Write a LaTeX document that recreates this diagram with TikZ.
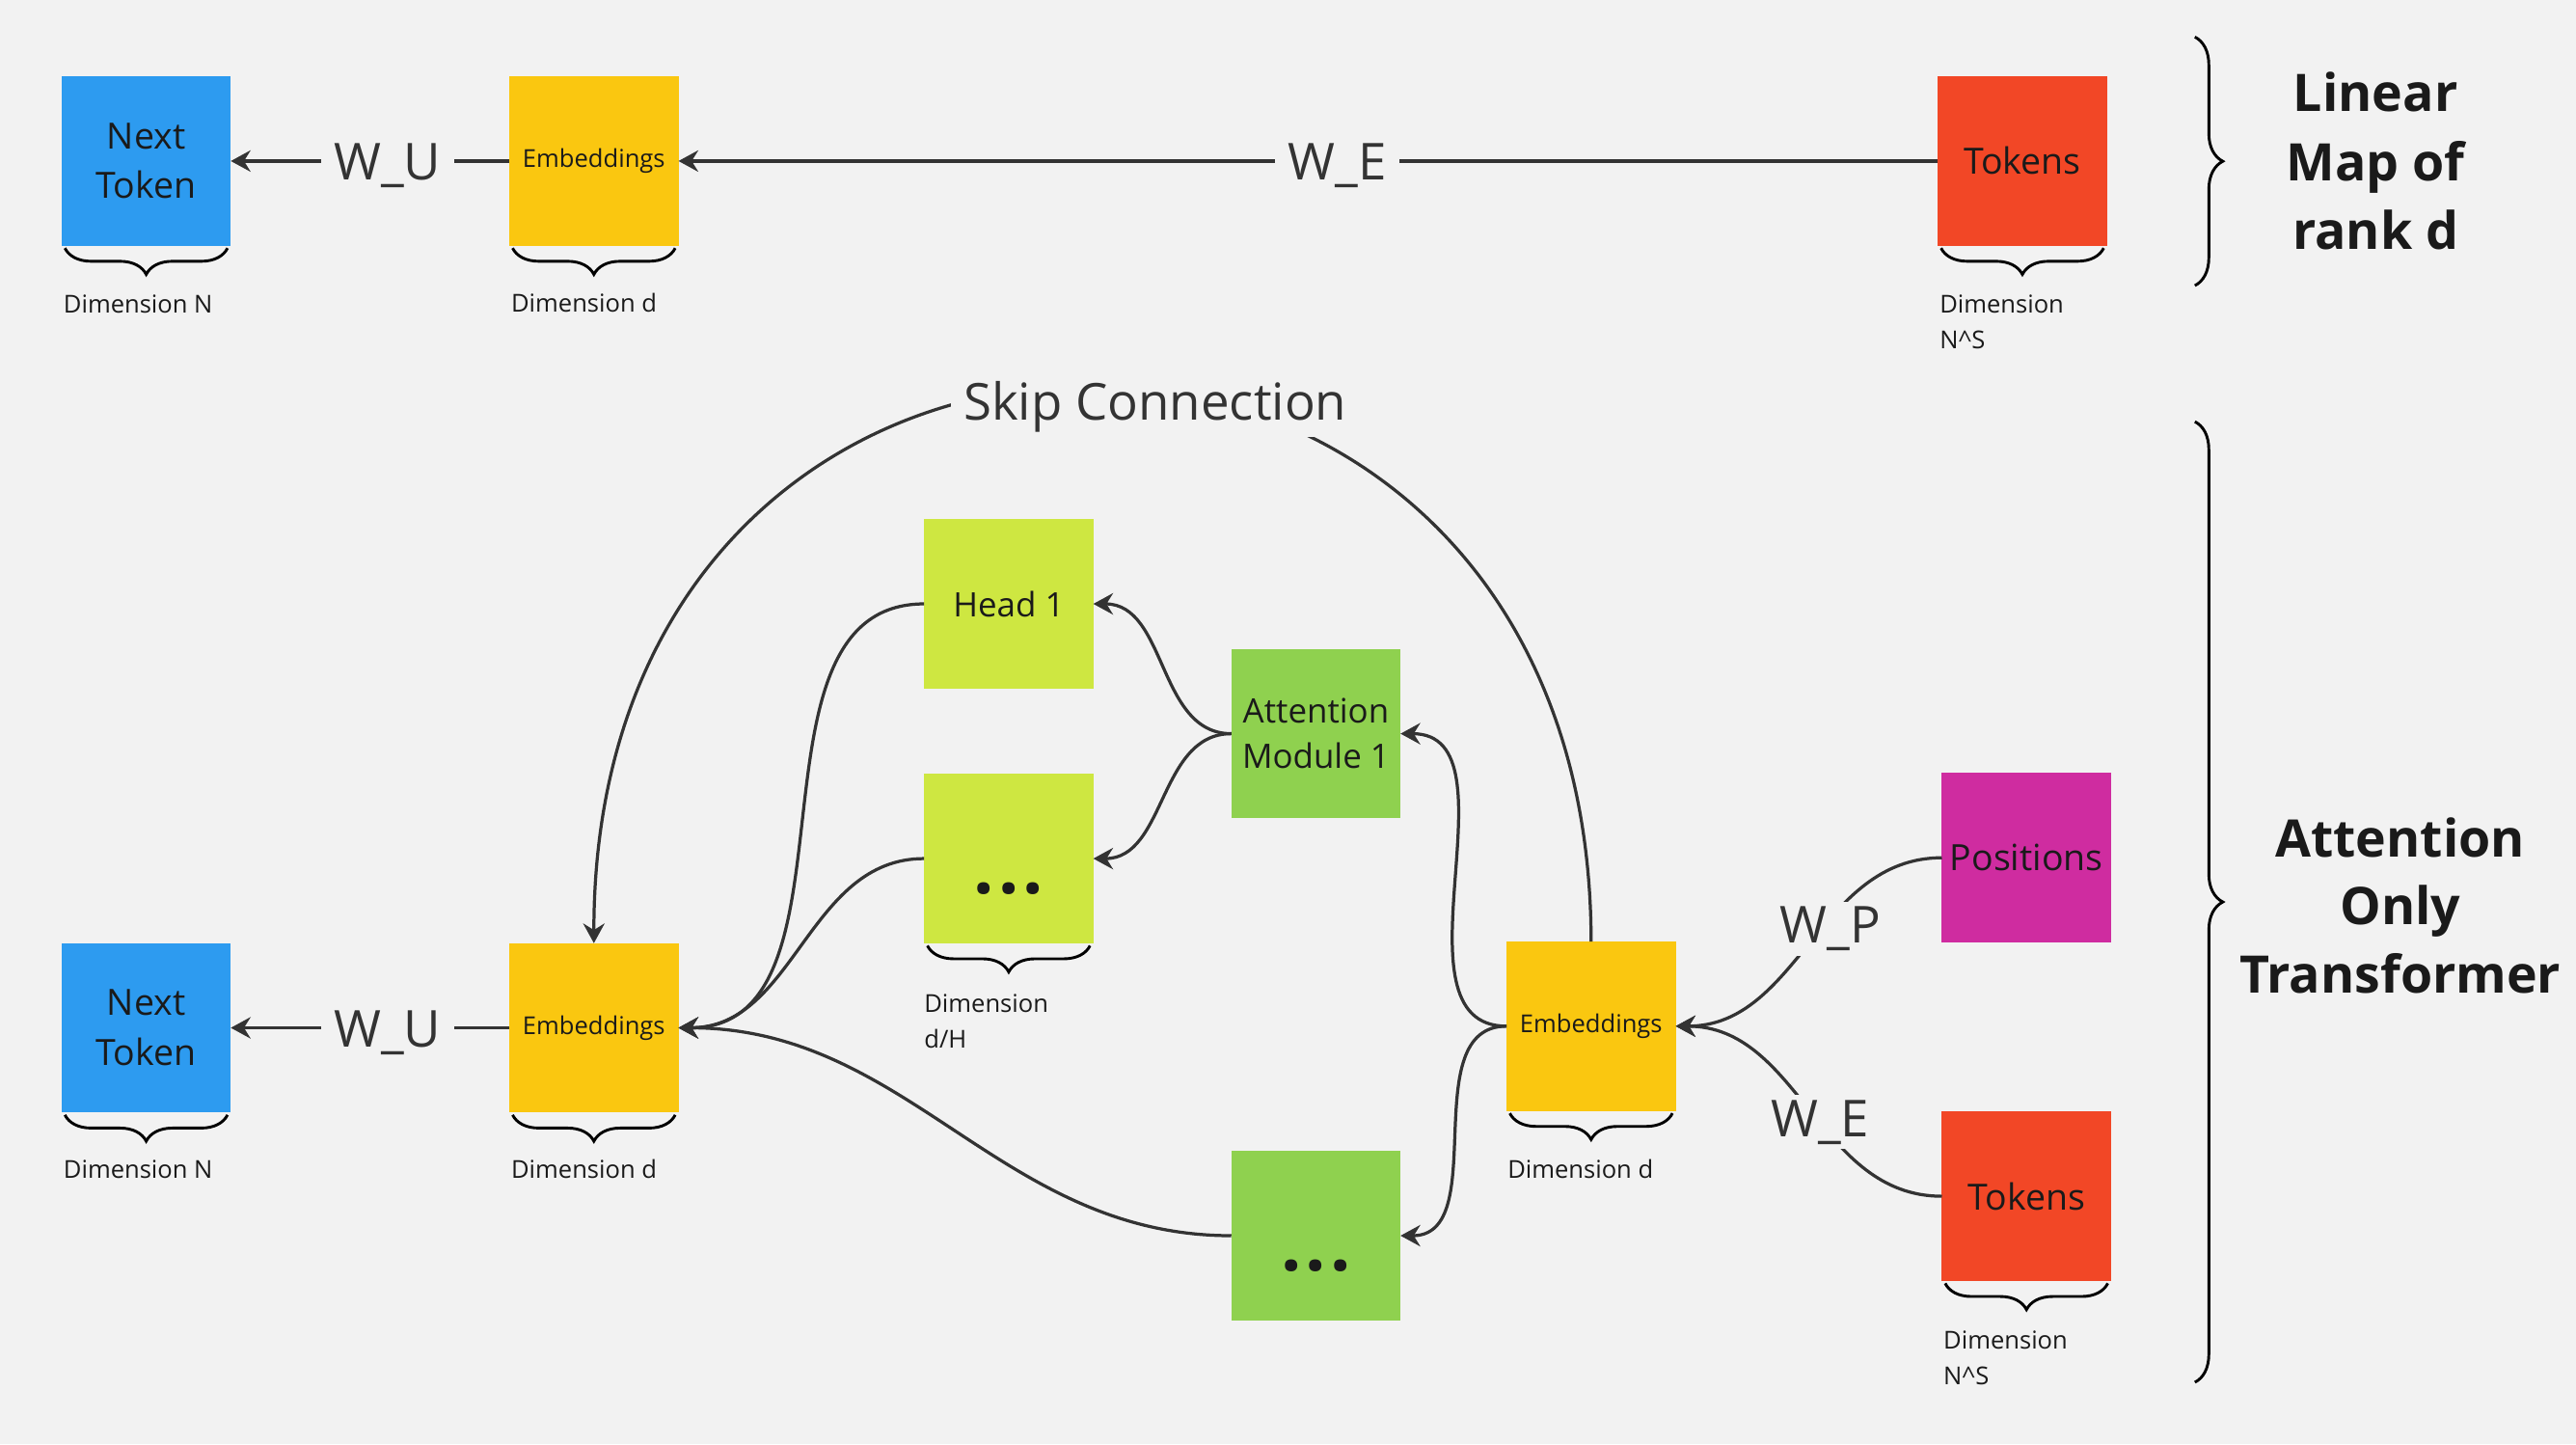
\documentclass[tikz,border=0pt]{standalone}
\usepackage{fontspec}
\setmainfont{Open Sans}
\usetikzlibrary{arrows.meta,decorations.pathreplacing}
\definecolor{bg}{HTML}{F2F2F2}
\definecolor{cblue}{HTML}{2D9BF0}
\definecolor{cyellow}{HTML}{FAC710}
\definecolor{cred}{HTML}{F24726}
\definecolor{clime}{HTML}{CEE741}
\definecolor{cgreen}{HTML}{8FD14F}
\definecolor{cmag}{HTML}{CF2CA0}
\definecolor{cline}{HTML}{333333}
\definecolor{ctext}{HTML}{1A1A1A}
\newcommand\fntbig{\fontsize{22}{30.3}\selectfont}
\newcommand\fntmid{\fontsize{20.5}{27.4}\selectfont}
\newcommand\fntemb{\fontsize{15}{18}\selectfont}
\newcommand\fntdim{\fontsize{15}{21.8}\selectfont}
\newcommand\fntlbl{\fontsize{31}{36}\selectfont}
\newcommand\fnttitleA{\fontsize{31.5}{42}\selectfont\bfseries}
\newcommand\fnttitleB{\fontsize{31.5}{41.3}\selectfont\bfseries}
\newcommand\boxdots{\smash{\raisebox{-21.5pt}{\fontsize{44}{44}\selectfont\bfseries .\kern2.4pt.\kern2.4pt.}}}
\begin{document}
\begin{tikzpicture}[x=1pt, y=-1pt,
  box/.style={minimum width=103pt, minimum height=103pt, inner sep=0pt, outer sep=0pt, align=center, text=ctext},
  conn/.style={draw=cline, line width=1.9pt, -{Stealth[length=12pt,width=13pt,inset=4pt]}},
  lbl/.style={fill=bg, text=cline, font=\fntlbl, inner xsep=8pt, inner ysep=3pt},
  brc/.style={draw=black, line width=1.7pt, decorate, decoration={brace, amplitude=16pt}},
  bigbrc/.style={draw=black, line width=1.7pt, decorate, decoration={brace, amplitude=17pt}},
  dimlbl/.style={font=\fntdim, text=ctext, align=left, inner sep=0pt, anchor=base west},
  title/.style={text=ctext, align=center, inner sep=0pt}]
\fill[bg] (0,0) rectangle (1568,879);
\useasboundingbox (0,0) rectangle (1568,879);

% ---------- top row ----------
\node[box, fill=cblue, font=\fntbig] (nt1) at (89,98) {Next\\Token};
\node[box, fill=cyellow, font=\fntemb] (e1) at (361.5,98) {Embeddings};
\node[box, fill=cred, font=\fntbig] (t1) at (1231,98) {Tokens};

\draw[conn] (e1.west) -- node[lbl, pos=0.437, yshift=-3pt] {W\_U} (nt1.east);
\draw[conn] (t1.west) -- node[lbl, pos=0.4767, yshift=-3pt] {W\_E} (e1.east);

% ---------- bottom ----------
\node[box, fill=cblue, font=\fntbig] (nt2) at (89,625.5) {Next\\Token};
\node[box, fill=cyellow, font=\fntemb] (e2) at (361.5,625.5) {Embeddings};
\node[box, fill=clime, font=\fntmid] (h1) at (614,367.5) {Head 1};
\node[box, fill=clime] (d1) at (614,522.5) {\boxdots};
\node[box, fill=cgreen, font=\fntmid] (am) at (801,446.5) {Attention\\Module 1};
\node[box, fill=cgreen] (d2) at (801,752) {\boxdots};
\node[box, fill=cyellow, font=\fntemb] (e3) at (968.5,624.5) {Embeddings};
\node[box, fill=cmag, font=\fntbig] (posn) at (1233.5,522) {Positions};
\node[box, fill=cred, font=\fntbig] (t2) at (1233.5,728) {Tokens};

\draw[conn] (e2.west) -- node[lbl, pos=0.437, yshift=-3pt] {W\_U} (nt2.east);

\draw[conn] (am.west) to[out=180,in=0] (h1.east);
\draw[conn] (am.west) to[out=180,in=0] (d1.east);
\draw[conn] (h1.west) to[out=180,in=0] (e2.east);
\draw[conn] (d1.west) to[out=180,in=0] (e2.east);
\draw[conn] (d2.west) to[out=180,in=0] (e2.east);
\draw[conn] (e3.west) to[out=180,in=0] (am.east);
\draw[conn] (e3.west) to[out=180,in=0] (d2.east);
\draw[conn] (posn.west) to[out=180,in=0] node[lbl, pos=0.5, xshift=13pt, yshift=8.2pt] {W\_P} (e3.east);
\draw[conn] (t2.west) to[out=180,in=0] node[lbl, pos=0.5, xshift=6.8pt, yshift=-6.7pt] {W\_E} (e3.east);

\draw[conn] (e3.north) .. controls (968,123) and (361,123) .. node[lbl, pos=0.5, xshift=38.5pt, yshift=-11.75pt] {Skip Connection} (e2.north);

% ---------- braces under boxes ----------
\foreach \n in {nt1,e1,t1,nt2,e2,d1,e3,t2}
  \draw[brc] ([xshift=-2pt,yshift=-1.5pt]\n.south east) -- ([xshift=2pt,yshift=-1.5pt]\n.south west);

\node[dimlbl] (dn1) at (38.5,190.5) {Dimension N};
\node[dimlbl] (dd1) at (311,190) {Dimension d};
\node[dimlbl] (dns1) at (1180.5,212.3) {Dimension\\N\textasciicircum S};
\node[dimlbl] (dn2) at (38.5,717.2) {Dimension N};
\node[dimlbl] (dd2) at (311,717.2) {Dimension d};
\node[dimlbl] (ddh) at (562.4,637.6) {Dimension\\d/H};
\node[dimlbl] (dd3) at (917.5,716.8) {Dimension d};
\node[dimlbl] (dns2) at (1182.8,842.6) {Dimension\\N\textasciicircum S};

% ---------- right braces and titles ----------
\draw[bigbrc] (1336,22.5) -- (1336,173.8);
\draw[bigbrc] (1336,256.6) -- (1336,841.2);
\node[title, font=\fnttitleA] (ttl1) at (1446,98) {Linear\\Map of\\rank d};
\node[title, font=\fnttitleB] (ttl2) at (1461,551) {Attention\\Only\\Transformer};
\end{tikzpicture}
\end{document}
